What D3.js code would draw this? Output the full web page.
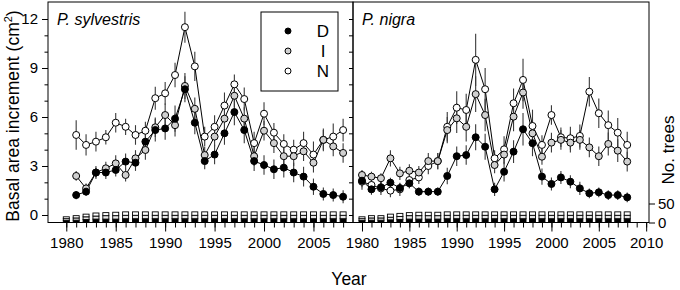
<!DOCTYPE html>
<html>
<head>
<meta charset="utf-8">
<script src="https://cdn.jsdelivr.net/npm/d3@7"></script>
<style>
  body { margin: 0; background: #fff; }
  svg { display: block; font-family: "Liberation Sans", Arial, sans-serif; }
</style>
</head>
<body>
<svg width="680" height="290"></svg>
<script>
// years
const sylYears = d3.range(1981, 2009);
const nigYears = d3.range(1980, 2009);
const barYears = d3.range(1980, 2009);

// P. sylvestris, basal area increment (cm2), 1981-2008
const sylD = [1.22,1.43,2.6,2.6,2.76,3.27,3.2,4.49,5.2,5.3,5.9,7.7,5.65,3.3,3.7,5.0,6.3,5.2,3.3,3.06,2.8,2.9,2.6,2.35,1.73,1.29,1.22,1.12];
const sylI = [2.39,1.63,2.6,2.86,3.16,2.45,3.47,3.98,5.37,6.12,5.5,7.9,6.5,3.67,4.8,5.9,7.3,5.9,3.6,5.16,4.4,3.6,3.6,3.9,3.2,4.6,4.2,3.8];
const sylN = [4.9,4.29,4.49,4.76,5.65,5.4,4.9,5.16,7.15,7.45,8.57,11.5,9.1,4.8,5.4,6.7,8.0,7.1,4.4,6.2,5.04,4.35,4.0,4.4,3.7,4.6,4.8,5.2];
const sylDse = [0.25,0.25,0.3,0.4,0.4,0.5,0.5,0.6,0.7,0.7,0.8,0.8,0.7,0.5,0.6,0.7,0.8,0.8,0.6,0.6,0.6,0.6,0.6,0.6,0.5,0.4,0.4,0.4];
const sylIse = [0.3,0.3,0.4,0.4,0.5,0.4,0.5,0.6,0.6,0.7,0.7,0.8,0.7,0.5,0.6,0.7,0.7,0.7,0.6,0.6,0.6,0.6,0.6,0.6,0.6,0.6,0.6,0.6];
const sylNse = [0.9,0.65,0.6,0.45,0.6,0.5,0.6,0.55,0.7,0.7,0.75,0.95,0.9,0.6,0.7,0.8,0.6,0.7,0.7,0.7,0.6,0.6,0.6,0.7,0.8,0.7,0.8,0.7];

// P. nigra, 1980-2008
const nigD = [2.1,1.57,1.7,1.98,1.65,1.94,1.43,1.43,1.43,2.39,3.6,3.67,4.76,4.18,1.57,2.65,3.88,5.25,4.4,2.35,1.9,2.3,2.04,1.63,1.33,1.39,1.22,1.22,1.08];
const nigI = [2.45,2.35,2.25,3.47,2.55,2.71,2.6,3.3,3.3,5.2,5.92,5.4,7.4,6.12,3.06,3.7,6.02,7.5,5.0,3.57,4.43,4.6,4.43,4.6,4.14,3.6,4.35,3.94,3.27];
const nigN = [2.04,1.84,1.63,1.49,1.57,2.14,2.3,3.0,3.3,5.4,6.57,6.43,9.5,7.7,3.47,4.02,6.84,8.27,5.45,4.29,6.12,4.76,4.7,4.84,7.55,6.23,5.5,5.04,4.29];
const nigDse = [0.4,0.3,0.3,0.3,0.3,0.3,0.25,0.25,0.25,0.5,0.6,0.6,0.8,0.8,0.4,0.6,0.7,1.0,0.8,0.5,0.4,0.4,0.4,0.4,0.3,0.3,0.3,0.3,0.3];
const nigIse = [0.3,0.3,0.3,0.5,0.4,0.4,0.4,0.5,0.5,0.8,0.9,0.9,1.1,1.0,0.5,0.6,0.9,1.0,0.8,0.5,0.6,0.6,0.6,0.6,0.6,0.6,0.7,0.7,0.6];
const nigNse = [0.5,0.6,0.4,0.4,0.4,0.5,0.4,0.5,0.5,0.9,1.0,1.0,1.6,1.3,0.5,0.8,0.9,1.3,1.0,0.6,0.6,0.6,0.7,0.7,0.9,0.9,0.9,0.9,0.8];

// number of trees, stacked bars, 1980-2008
const sylTreesD = [5,6,8,9,9,9,10,10,10,10,10,10,10,10,10,10,10,10,10,10,10,10,10,10,10,10,10,10,10];
const sylTreesI = [5,6,7,8,9,9,9,9,9,9,9,9,9,9,9,9,9,9,9,9,9,9,9,9,9,9,9,9,9];
const sylTreesN = [5,6,7,8,8,9,9,9,9,9,9,9,9,9,9,9,9,9,9,9,9,9,9,9,9,9,9,9,9];
const nigTreesD = [5,6,6,7,8,9,9,9,9,10,10,10,10,10,10,10,10,10,10,10,10,10,10,10,10,10,10,10,10];
const nigTreesI = [5,6,6,7,8,9,9,9,9,9,9,9,9,9,9,9,9,9,9,9,9,9,9,9,9,9,9,9,9];
const nigTreesN = [5,6,6,8,8,8,9,9,9,9,9,9,9,9,9,9,9,9,9,9,9,9,9,9,9,9,9,9,9];

const fills = { D: "#000", I: "#d0d0d0", N: "#fff" };
const barFills = { D: "#000", I: "#e6e6e6", N: "#fff" };

const svg = d3.select("svg");
const plotTop = 2, plotBottom = 222.5;

// shared y scales
const y = d3.scaleLinear().domain([0, 12]).range([215, 19]);
const yT = d3.scaleLinear().domain([0, 50]).range([plotBottom, 203.5]);

const xL = d3.scaleLinear().domain([1978.15, 2009.0]).range([48, 353]);
const xR = d3.scaleLinear().domain([1979.05, 2010.3]).range([353, 649]);

function drawPanel(x, years, series, trees, label, x0, x1) {
  const g = svg.append("g");

  // stacked tree bars
  const stack = barYears.map((yr, i) => ({ yr, D: trees[0][i], I: trees[1][i], N: trees[2][i] }));
  const layers = d3.stack().keys(["D", "I", "N"])(stack);
  g.append("g").selectAll("g")
    .data(layers)
    .join("g")
      .attr("fill", d => barFills[d.key])
    .selectAll("rect")
    .data(d => d)
    .join("rect")
      .attr("x", d => x(d.data.yr) - 3)
      .attr("width", 6)
      .attr("y", d => yT(d[1]))
      .attr("height", d => yT(d[0]) - yT(d[1]))
      .attr("stroke", "#000")
      .attr("stroke-width", 0.9);

  // error bars
  series.forEach(s => {
    g.append("g").selectAll("line")
      .data(years.map((yr, i) => ({ yr, v: s.v[i], se: s.se[i] })))
      .join("line")
        .attr("x1", d => x(d.yr)).attr("x2", d => x(d.yr))
        .attr("y1", d => y(d.v - d.se)).attr("y2", d => y(d.v + d.se))
        .attr("stroke", "#3a3a3a")
        .attr("stroke-width", 1.1);
  });

  // lines and points
  const line = d3.line().x(d => x(d[0])).y(d => y(d[1]));
  series.forEach(s => {
    const pts = years.map((yr, i) => [yr, s.v[i]]);
    g.append("path")
      .attr("d", line(pts))
      .attr("fill", "none")
      .attr("stroke", "#000")
      .attr("stroke-width", 1);
  });
  series.forEach(s => {
    g.append("g").selectAll("circle")
      .data(years.map((yr, i) => [yr, s.v[i]]))
      .join("circle")
        .attr("cx", d => x(d[0]))
        .attr("cy", d => y(d[1]))
        .attr("r", 3.5)
        .attr("fill", fills[s.key])
        .attr("stroke", "#000")
        .attr("stroke-width", 1);
  });

  // box
  svg.append("rect")
    .attr("x", x0).attr("y", plotTop)
    .attr("width", x1 - x0).attr("height", plotBottom - plotTop)
    .attr("fill", "none").attr("stroke", "#000").attr("stroke-width", 1);

  svg.append("text")
    .attr("x", x0 + 9).attr("y", 25)
    .attr("font-size", 16).attr("font-style", "italic")
    .text(label);
}

drawPanel(xL, sylYears,
  [{ key: "N", v: sylN, se: sylNse }, { key: "I", v: sylI, se: sylIse }, { key: "D", v: sylD, se: sylDse }],
  [sylTreesD, sylTreesI, sylTreesN], "P. sylvestris", 48, 353);
drawPanel(xR, nigYears,
  [{ key: "N", v: nigN, se: nigNse }, { key: "I", v: nigI, se: nigIse }, { key: "D", v: nigD, se: nigDse }],
  [nigTreesD, nigTreesI, nigTreesN], "P. nigra", 353, 649);

// axes
function clean(sel) { sel.select(".domain").remove(); sel.selectAll("line").attr("stroke", "#000"); }

svg.append("g").attr("transform", "translate(48,0)")
  .call(d3.axisLeft(y).tickValues(d3.range(0, 13)).tickSize(3.5).tickFormat(""))
  .call(clean);
svg.append("g").attr("transform", "translate(48,0)")
  .call(d3.axisLeft(y).tickValues([0, 3, 6, 9, 12]).tickSize(6).tickPadding(4))
  .call(clean)
  .call(s => s.selectAll("text").attr("font-size", 15).attr("fill", "#000").attr("font-family", null));

svg.append("g").attr("transform", "translate(353,0)")
  .call(d3.axisLeft(y).tickValues(d3.range(0, 13)).tickSize(4).tickFormat(""))
  .call(clean);

function xAxis(x, from, to) {
  const minor = d3.range(from, to + 1);
  const major = minor.filter(v => v % 5 === 0);
  svg.append("g").attr("transform", `translate(0,${plotBottom})`)
    .call(d3.axisBottom(x).tickValues(minor).tickSize(5).tickFormat(""))
    .call(clean);
  svg.append("g").attr("transform", `translate(0,${plotBottom})`)
    .call(d3.axisBottom(x).tickValues(major).tickSize(9).tickPadding(6).tickFormat(d3.format("d")))
    .call(clean)
    .call(s => s.selectAll("text").attr("font-size", 15).attr("fill", "#000").attr("font-family", null));
}
xAxis(xL, 1980, 2008);
xAxis(xR, 1980, 2010);

svg.append("g").attr("transform", "translate(649,0)")
  .call(d3.axisRight(yT).tickValues([0, 50]).tickSize(6).tickPadding(3))
  .call(clean)
  .call(s => s.selectAll("text").attr("font-size", 15).attr("fill", "#000").attr("font-family", null));

// titles
const yt = svg.append("text")
  .attr("transform", "translate(19,116) rotate(-90)")
  .attr("text-anchor", "middle")
  .attr("font-size", 17.5);
yt.append("tspan").text("Basal area increment (cm");
yt.append("tspan").attr("font-size", 11).attr("dy", -7).text("2");
yt.append("tspan").attr("dy", 7).text(")");

svg.append("text")
  .attr("x", 349).attr("y", 285)
  .attr("text-anchor", "middle")
  .attr("font-size", 17.5)
  .text("Year");

svg.append("text")
  .attr("transform", "translate(674,150) rotate(-90)")
  .attr("text-anchor", "middle")
  .attr("font-size", 17)
  .text("No. trees");

// legend
const leg = svg.append("g");
leg.append("rect")
  .attr("x", 261).attr("y", 12).attr("width", 77).attr("height", 79)
  .attr("fill", "#fff").attr("stroke", "#000").attr("stroke-width", 1);
const legKeys = ["D", "I", "N"];
leg.selectAll("circle")
  .data(legKeys)
  .join("circle")
    .attr("cx", 288)
    .attr("cy", (d, i) => 31 + i * 20)
    .attr("r", 3)
    .attr("fill", d => fills[d])
    .attr("stroke", "#000");
leg.selectAll("text")
  .data(legKeys)
  .join("text")
    .attr("x", 323)
    .attr("y", (d, i) => 37 + i * 20)
    .attr("text-anchor", "middle")
    .attr("font-size", 17)
    .text(d => d);
</script>
</body>
</html>
